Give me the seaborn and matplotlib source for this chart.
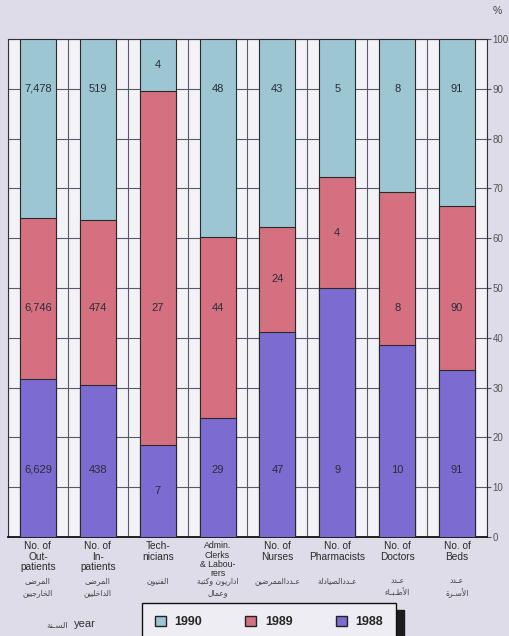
import numpy as np
import pandas as pd
import seaborn as sns
import matplotlib.pyplot as plt
from matplotlib.patches import Patch

# data
categories = ['Out-patients', 'In-patients', 'Technicians', 'Admin', 'Nurses',
              'Pharmacists', 'Doctors', 'Beds']
v1988 = [6629, 438, 7, 29, 47, 9, 10, 91]
v1989 = [6746, 474, 27, 44, 24, 4, 8, 90]
v1990 = [7478, 519, 4, 48, 43, 5, 8, 91]

en_labels = ['No. of\nOut-\npatients', 'No. of\nIn-\npatients', 'Tech-\nnicians',
             'Admin.\nClerks\n& Labou-\nrers', 'No. of\nNurses', 'No. of\nPharmacists',
             'No. of\nDoctors', 'No. of\nBeds']
ar_labels = ['المرضى\nالخارجيين', 'المرضى\nالداخليين', 'الفنيون', 'اداريون وكتبة\nوعمال',
             'عـددالممرضين', 'عـددالصيادلة', 'عـدد\nالأطـبـاء', 'عـدد\nالأسـرة']

c1990 = '#9dc6d3'
c1989 = '#d4707f'
c1988 = '#7c6bd0'

# --- tiny arabic shaper (matplotlib does not join letters itself) ---
FORMS = {
    'ء': ('\uFE80', None, None, None),
    'أ': ('\uFE83', '\uFE84', None, None),
    'ا': ('\uFE8D', '\uFE8E', None, None),
    'ب': ('\uFE8F', '\uFE90', '\uFE91', '\uFE92'),
    'ة': ('\uFE93', '\uFE94', None, None),
    'ت': ('\uFE95', '\uFE96', '\uFE97', '\uFE98'),
    'ج': ('\uFE9D', '\uFE9E', '\uFE9F', '\uFEA0'),
    'خ': ('\uFEA5', '\uFEA6', '\uFEA7', '\uFEA8'),
    'د': ('\uFEA9', '\uFEAA', None, None),
    'ر': ('\uFEAD', '\uFEAE', None, None),
    'س': ('\uFEB1', '\uFEB2', '\uFEB3', '\uFEB4'),
    'ص': ('\uFEB9', '\uFEBA', '\uFEBB', '\uFEBC'),
    'ض': ('\uFEBD', '\uFEBE', '\uFEBF', '\uFEC0'),
    'ط': ('\uFEC1', '\uFEC2', '\uFEC3', '\uFEC4'),
    'ع': ('\uFEC9', '\uFECA', '\uFECB', '\uFECC'),
    'ف': ('\uFED1', '\uFED2', '\uFED3', '\uFED4'),
    'ك': ('\uFED9', '\uFEDA', '\uFEDB', '\uFEDC'),
    'ل': ('\uFEDD', '\uFEDE', '\uFEDF', '\uFEE0'),
    'م': ('\uFEE1', '\uFEE2', '\uFEE3', '\uFEE4'),
    'ن': ('\uFEE5', '\uFEE6', '\uFEE7', '\uFEE8'),
    'و': ('\uFEED', '\uFEEE', None, None),
    'ى': ('\uFEEF', '\uFEF0', None, None),
    'ي': ('\uFEF1', '\uFEF2', '\uFEF3', '\uFEF4'),
    'ـ': ('\u0640', '\u0640', '\u0640', '\u0640'),
    'لا': ('\uFEFB', '\uFEFC', None, None),
    'لأ': ('\uFEF7', '\uFEF8', None, None),
}


def shape_line(s):
    toks = []
    i = 0
    while i < len(s):
        if s[i] == 'ل' and i + 1 < len(s) and s[i + 1] in 'اأ':
            toks.append(s[i:i + 2])
            i += 2
        else:
            toks.append(s[i])
            i += 1
    out = []
    for k, t in enumerate(toks):
        f = FORMS.get(t)
        if f is None:
            out.append(t)
            continue
        prev = FORMS.get(toks[k - 1]) if k > 0 else None
        nxt = FORMS.get(toks[k + 1]) if k + 1 < len(toks) else None
        jp = prev is not None and prev[2] is not None and f[1] is not None
        jn = f[2] is not None and nxt is not None and nxt[1] is not None
        if jp and jn:
            out.append(f[3])
        elif jp:
            out.append(f[1])
        elif jn:
            out.append(f[2])
        else:
            out.append(f[0])
    return ''.join(out)[::-1]


def shape(s):
    return '\n'.join(shape_line(line) for line in s.split('\n'))


# cumulative percentages for the stacked 100% bars
tot = np.array(v1988) + np.array(v1989) + np.array(v1990)
p1988 = np.array(v1988) / tot * 100
p1989 = p1988 + np.array(v1989) / tot * 100
p1990 = p1989 + np.array(v1990) / tot * 100

df = pd.DataFrame({'cat': categories, 'p1988': p1988, 'p1989': p1989, 'p1990': p1990})

sns.set_style('white')
plt.rcParams['font.family'] = ['Liberation Sans', 'DejaVu Sans']

fig = plt.figure(figsize=(5.1, 6.36), dpi=100, facecolor='#dedce8')
ax = fig.add_axes([8 / 510, 99 / 636, 479 / 510, 498 / 636])
ax.set_facecolor('#f3f2f7')

# draw tallest first so the lower segments cover it
sns.barplot(data=df, x='cat', y='p1990', color=c1990, width=0.6, saturation=1,
            edgecolor='#2a2a2a', linewidth=0.8, ax=ax, zorder=3)
sns.barplot(data=df, x='cat', y='p1989', color=c1989, width=0.6, saturation=1,
            edgecolor='#2a2a2a', linewidth=0.8, ax=ax, zorder=3)
sns.barplot(data=df, x='cat', y='p1988', color=c1988, width=0.6, saturation=1,
            edgecolor='#2a2a2a', linewidth=0.8, ax=ax, zorder=3)

# value labels inside the segments
pref = [13.5, 46, 90]
for i in range(len(categories)):
    segs = [(0, p1988[i], v1988[i]), (p1988[i], p1989[i], v1989[i]), (p1989[i], p1990[i], v1990[i])]
    for (lo, hi, v), py in zip(segs, pref):
        y = py if lo + 5 < py < hi - 5 else (lo + hi) / 2
        ax.text(i, y, f'{v:,}', ha='center', va='center', fontsize=8, color='#2b2b3a', zorder=5)

ax.set_xlim(-0.5, len(categories) - 0.5)
ax.set_ylim(0, 100)

# grid of cells behind the bars
ax.set_xticks(np.arange(-0.5, len(categories), 1), minor=True)
ax.set_yticks(np.arange(0, 101, 10))
ax.grid(True, which='minor', axis='x', color='#5a5a6a', lw=0.8, zorder=0)
ax.grid(True, which='major', axis='y', color='#5a5a6a', lw=0.8, zorder=0)
ax.set_axisbelow(True)

ax.yaxis.tick_right()
ax.tick_params(axis='y', direction='out', length=3, width=0.8, colors='#555555',
               labelsize=7, pad=1)
ax.tick_params(axis='x', which='both', length=0, pad=3)
ax.set_xticks(range(len(categories)))
ax.set_xticklabels(en_labels, fontsize=7.3, color='#2a2a2a', linespacing=1.05)
ax.get_xticklabels()[3].set_fontsize(6.3)
ax.set_xlabel('')
ax.set_ylabel('')

for s in ['left', 'right', 'top']:
    ax.spines[s].set_color('#333340')
    ax.spines[s].set_linewidth(0.8)
ax.spines['bottom'].set_color('#111111')
ax.spines['bottom'].set_linewidth(1.3)

# arabic category names under the english ones
for i, t in enumerate(ar_labels):
    ax.text(i, -0.078, shape(t), transform=ax.get_xaxis_transform(), ha='center', va='top',
            fontsize=5.5, color='#444444', family='DejaVu Sans', linespacing=1.4)

fig.text(497 / 510, 1 - 11 / 636, '%', ha='center', va='center', fontsize=7.5, color='#444444')
fig.text(96 / 510, 1 - 624 / 636, 'year', ha='right', va='center', fontsize=8, color='#333333')
fig.text(68 / 510, 1 - 625 / 636, shape('السـنة'), ha='right', va='center', fontsize=6,
         color='#444444', family='DejaVu Sans')

handles = [Patch(facecolor=c1990, edgecolor='#222222', label='1990'),
           Patch(facecolor=c1989, edgecolor='#222222', label='1989'),
           Patch(facecolor=c1988, edgecolor='#222222', label='1988')]
leg = fig.legend(handles=handles, ncol=3, loc='upper left',
                 bbox_to_anchor=(136 / 510, 1 - 597 / 636, 266 / 510, 0.0),
                 mode='expand', frameon=True, fancybox=False, edgecolor='#111111',
                 facecolor='#eeedf3', framealpha=1, borderpad=1.0, handlelength=0.9,
                 handleheight=0.9, handletextpad=0.7,
                 prop={'weight': 'bold', 'size': 9},
                 shadow={'ox': 6, 'oy': -5, 'color': '#1c1c1c', 'alpha': 1})
leg.get_frame().set_linewidth(1.0)

fig.savefig('out.png', dpi=100, facecolor=fig.get_facecolor())
